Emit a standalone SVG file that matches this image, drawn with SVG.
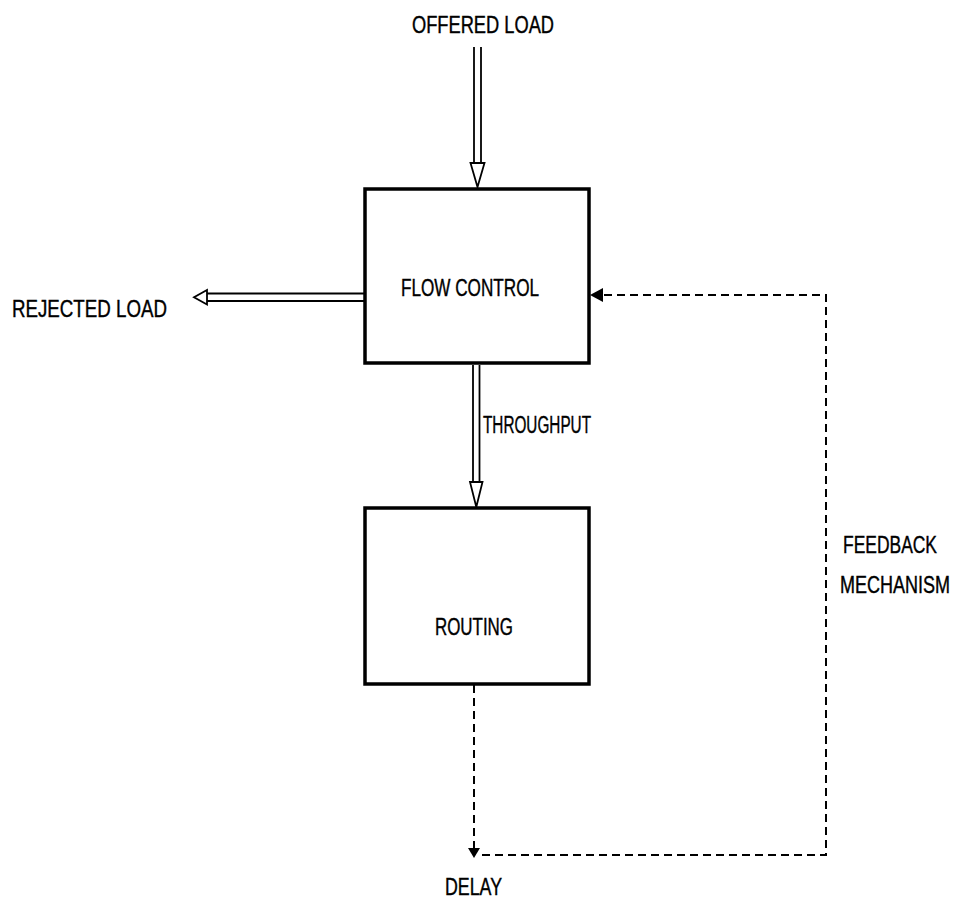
<svg xmlns="http://www.w3.org/2000/svg" width="960" height="900" viewBox="0 0 960 900">
  <style>
    .box { fill: #ffffff; stroke: #000000; stroke-width: 3.5; }
    .label { font-family: "Liberation Sans", Arial, sans-serif; font-size: 23px; fill: #000000; stroke: #000000; stroke-width: 0.4; }
    .shaft { stroke: #000000; stroke-width: 1.8; fill: none; }
    .head { fill: #ffffff; stroke: #000000; stroke-width: 1.8; stroke-linejoin: miter; }
    .dash { stroke: #000000; stroke-width: 2; fill: none; stroke-dasharray: 8 5; }
  </style>

  <rect width="960" height="900" fill="#ffffff"/>

  <!-- connectors -->
  <g id="connectors">
    <!-- offered load: hollow double-line arrow into flow control -->
    <g id="offered-load-arrow">
      <line class="shaft" x1="474" y1="47" x2="474" y2="163"/>
      <line class="shaft" x1="481" y1="47" x2="481" y2="163"/>
      <path class="head" d="M470.5,163 L484.5,163 L477.5,187 Z"/>
    </g>
    <!-- rejected load: hollow double-line arrow out to the left -->
    <g id="rejected-load-arrow">
      <line class="shaft" x1="207" y1="293.5" x2="364" y2="293.5"/>
      <line class="shaft" x1="207" y1="301" x2="364" y2="301"/>
      <path class="head" d="M207,290 L207,304.5 L194,297.3 Z"/>
    </g>
    <!-- throughput: hollow double-line arrow from flow control to routing -->
    <g id="throughput-arrow">
      <line class="shaft" x1="473" y1="365" x2="473" y2="482"/>
      <line class="shaft" x1="479.5" y1="365" x2="479.5" y2="482"/>
      <path class="head" d="M470,482 L482.5,482 L476.3,507 Z"/>
    </g>
    <!-- delay: dashed from routing down -->
    <path class="dash" d="M474,685 L474,848"/>
    <path d="M468,848 L480,848 L474,858 Z" fill="#000000"/>
    <!-- feedback loop: dashed from delay back to flow control -->
    <path class="dash" d="M482,855 L826,855 L826,295 L603,295"/>
    <path d="M603,288 L603,302 L590,295 Z" fill="#000000"/>
  </g>

  <!-- nodes -->
  <g id="flow-control">
    <rect class="box" x="365" y="189" width="224" height="174"/>
    <text class="label" x="401" y="296" textLength="138" lengthAdjust="spacingAndGlyphs">FLOW CONTROL</text>
  </g>
  <g id="routing">
    <rect class="box" x="365" y="508" width="224" height="176"/>
    <text class="label" x="435" y="635" textLength="78" lengthAdjust="spacingAndGlyphs">ROUTING</text>
  </g>

  <!-- free labels -->
  <g id="labels">
    <text class="label" x="412" y="33" textLength="142" lengthAdjust="spacingAndGlyphs">OFFERED LOAD</text>
    <text class="label" x="12" y="317" textLength="155" lengthAdjust="spacingAndGlyphs">REJECTED LOAD</text>
    <text class="label" x="483" y="433" textLength="108" lengthAdjust="spacingAndGlyphs">THROUGHPUT</text>
    <text class="label" x="445" y="895" textLength="57" lengthAdjust="spacingAndGlyphs">DELAY</text>
    <!-- narrow set for the right-hand caption -->
    <text class="label" transform="translate(843,553) scale(0.76,1)" x="0" y="0" textLength="123.7" lengthAdjust="spacingAndGlyphs">FEEDBACK</text>
    <text class="label" transform="translate(840,593) scale(0.76,1)" x="0" y="0" textLength="144.7" lengthAdjust="spacingAndGlyphs">MECHANISM</text>
  </g>
</svg>
